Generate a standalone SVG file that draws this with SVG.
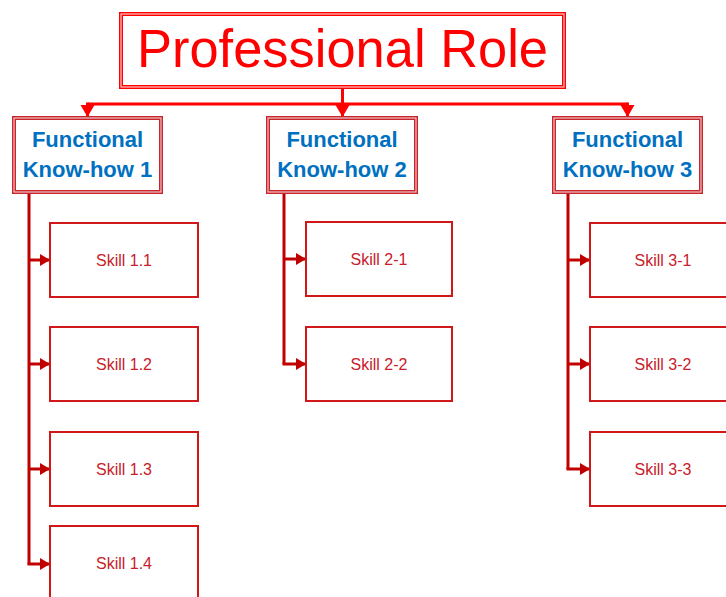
<svg xmlns="http://www.w3.org/2000/svg" width="726" height="597" viewBox="0 0 726 597">
<defs>
<style>
.dbl{fill:#fff;stroke:#FF0000;stroke-width:4}
.dblin{fill:none;stroke:#FFC8C8;stroke-width:1.2}
.fdbl{fill:#fff;stroke:#C8252B;stroke-width:4}
.fdblin{fill:none;stroke:#F2C4C4;stroke-width:1.2}
.skill{fill:#fff;stroke:#D01818;stroke-width:2}
.ft{font-family:"Liberation Sans",Arial,sans-serif;font-weight:bold;font-size:22px;fill:#0070C0;text-anchor:middle}
.st{font-family:"Liberation Sans",Arial,sans-serif;font-size:16px;fill:#C8202A;text-anchor:middle}
.top{fill:none;stroke:#FF0000;stroke-width:3}
.br{fill:none;stroke:#C00000;stroke-width:3}
</style>
<marker id="ahTop" viewBox="0 0 12 14" refX="12" refY="7" markerWidth="4" markerHeight="4.67" markerUnits="strokeWidth" orient="auto"><path d="M0,0 L12,7 L0,14 z" fill="#FF0000"/></marker>
<marker id="ahBr" viewBox="0 0 10 12" refX="10" refY="6" markerWidth="3.33" markerHeight="4" markerUnits="strokeWidth" orient="auto"><path d="M0,0 L10,6 L0,12 z" fill="#C00000"/></marker>
</defs>
<rect width="726" height="597" fill="#fff"/>
<g id="connectors">
<path class="top" d="M342.5,88 V117" marker-end="url(#ahTop)"/>
<path class="top" d="M87.5,104 H627.5"/>
<path class="top" d="M87.5,102.5 V117" marker-end="url(#ahTop)"/>
<path class="top" d="M627.5,102.5 V117" marker-end="url(#ahTop)"/>
<path class="br" d="M29,193 V564"/>
<path class="br" d="M29,260 H50" marker-end="url(#ahBr)"/>
<path class="br" d="M29,364 H50" marker-end="url(#ahBr)"/>
<path class="br" d="M29,469 H50" marker-end="url(#ahBr)"/>
<path class="br" d="M27.5,564 H50" marker-end="url(#ahBr)"/>
<path class="br" d="M284,193 V364"/>
<path class="br" d="M284,259 H306" marker-end="url(#ahBr)"/>
<path class="br" d="M282.5,364 H306" marker-end="url(#ahBr)"/>
<path class="br" d="M568,193 V469"/>
<path class="br" d="M568,260 H590" marker-end="url(#ahBr)"/>
<path class="br" d="M568,364 H590" marker-end="url(#ahBr)"/>
<path class="br" d="M566.5,469 H590" marker-end="url(#ahBr)"/>
</g>
<g id="professional-role">
<rect class="dbl" x="121" y="14" width="443" height="73"/>
<rect class="dblin" x="121" y="14" width="443" height="73"/>
<text x="342.5" y="67" font-family="Liberation Sans,Arial,sans-serif" font-size="54" fill="#FF0000" text-anchor="middle" textLength="411" lengthAdjust="spacingAndGlyphs">Professional Role</text>
</g>
<g id="fk1">
<rect class="fdbl" x="14" y="118" width="147" height="74"/>
<rect class="fdblin" x="14" y="118" width="147" height="74"/>
<text class="ft" x="87.5" y="147">Functional</text>
<text class="ft" x="87.5" y="177">Know-how 1</text>
</g>
<g id="fk2">
<rect class="fdbl" x="268" y="118" width="148" height="74"/>
<rect class="fdblin" x="268" y="118" width="148" height="74"/>
<text class="ft" x="342" y="147">Functional</text>
<text class="ft" x="342" y="177">Know-how 2</text>
</g>
<g id="fk3">
<rect class="fdbl" x="554" y="118" width="147" height="74"/>
<rect class="fdblin" x="554" y="118" width="147" height="74"/>
<text class="ft" x="627.5" y="147">Functional</text>
<text class="ft" x="627.5" y="177">Know-how 3</text>
</g>
<g id="s11"><rect class="skill" x="50" y="223" width="148" height="74"/><text class="st" x="124" y="266">Skill 1.1</text></g>
<g id="s12"><rect class="skill" x="50" y="327" width="148" height="74"/><text class="st" x="124" y="370">Skill 1.2</text></g>
<g id="s13"><rect class="skill" x="50" y="432" width="148" height="74"/><text class="st" x="124" y="475">Skill 1.3</text></g>
<g id="s14"><rect class="skill" x="50" y="526" width="148" height="80"/><text class="st" x="124" y="569">Skill 1.4</text></g>
<g id="s21"><rect class="skill" x="306" y="222" width="146" height="74"/><text class="st" x="379" y="265">Skill 2-1</text></g>
<g id="s22"><rect class="skill" x="306" y="327" width="146" height="74"/><text class="st" x="379" y="370">Skill 2-2</text></g>
<g id="s31"><rect class="skill" x="590" y="223" width="148" height="74"/><text class="st" x="663" y="266">Skill 3-1</text></g>
<g id="s32"><rect class="skill" x="590" y="327" width="148" height="74"/><text class="st" x="663" y="370">Skill 3-2</text></g>
<g id="s33"><rect class="skill" x="590" y="432" width="148" height="74"/><text class="st" x="663" y="475">Skill 3-3</text></g>
</svg>
